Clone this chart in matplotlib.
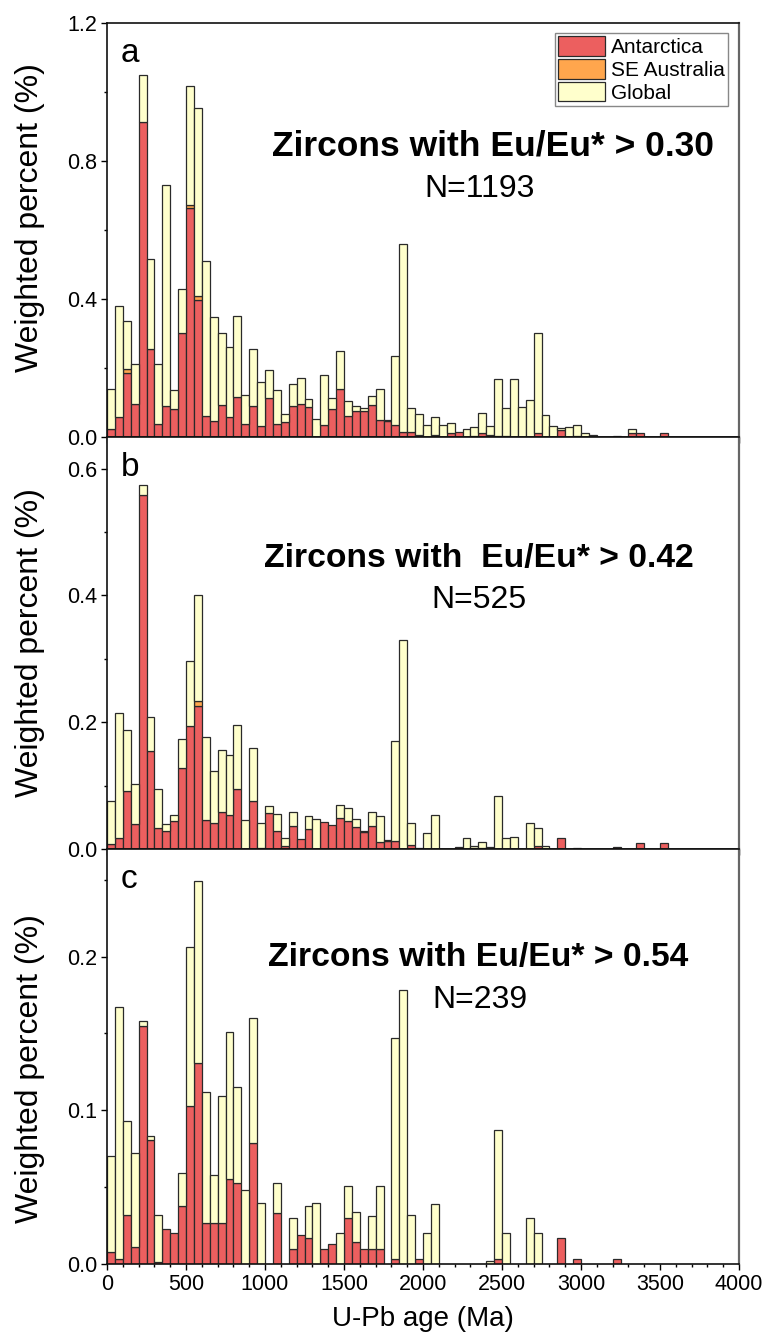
import numpy as np
import matplotlib
matplotlib.use('Agg')
import matplotlib.pyplot as plt
from matplotlib.ticker import MultipleLocator, FormatStrFormatter
from matplotlib.patches import Patch

plt.rcParams['font.family'] = ['Liberation Sans', 'DejaVu Sans']

# ---------------- data (50 Ma bins, 0-4000 Ma) ----------------
bin_left = np.arange(0, 4000, 50)
bin_width = 50

a_antarctica = [0.024, 0.059, 0.186, 0.097, 0.913, 0.256, 0.039, 0.089, 0.082, 0.301,
                0.663, 0.398, 0.060, 0.046, 0.094, 0.058, 0.115, 0.039, 0.091, 0.032,
                0.113, 0.037, 0.044, 0.090, 0.095, 0.087, 0.000, 0.034, 0.082, 0.140,
                0.060, 0.075, 0.075, 0.092, 0.048, 0.047, 0.034, 0.014, 0.014, 0.005,
                0.000, 0.005, 0.000, 0.011, 0.014, 0.000, 0.004, 0.011, 0.006, 0.004,
                0.004, 0.000, 0.000, 0.000, 0.011, 0.000, 0.000, 0.021, 0.000, 0.004,
                0.000, 0.000, 0.000, 0.000, 0.004, 0.000, 0.012, 0.013, 0.000, 0.000,
                0.013, 0.000, 0.000, 0.000, 0.000, 0.000, 0.000, 0.000, 0.000, 0.000]
a_seaus = [0.000, 0.000, 0.012, 0.000, 0.000, 0.000, 0.000, 0.000, 0.000, 0.000,
           0.010, 0.011] + [0.0] * 68
a_global = [0.114, 0.321, 0.138, 0.114, 0.135, 0.259, 0.174, 0.640, 0.055, 0.129,
            0.343, 0.546, 0.450, 0.302, 0.207, 0.203, 0.236, 0.084, 0.164, 0.127,
            0.080, 0.098, 0.022, 0.065, 0.076, 0.023, 0.053, 0.145, 0.032, 0.109,
            0.043, 0.015, 0.008, 0.026, 0.092, 0.003, 0.201, 0.544, 0.069, 0.063,
            0.036, 0.053, 0.035, 0.029, 0.000, 0.023, 0.026, 0.060, 0.027, 0.165,
            0.079, 0.169, 0.088, 0.107, 0.291, 0.064, 0.032, 0.004, 0.028, 0.032,
            0.011, 0.005, 0.000, 0.000, 0.000, 0.000, 0.012, 0.000, 0.000, 0.000,
            0.000, 0.000, 0.000, 0.000, 0.000, 0.000, 0.000, 0.000, 0.000, 0.000]

b_antarctica = [0.008, 0.017, 0.092, 0.039, 0.559, 0.154, 0.033, 0.029, 0.044, 0.128,
                0.194, 0.225, 0.046, 0.041, 0.058, 0.054, 0.094, 0.000, 0.075, 0.002,
                0.057, 0.029, 0.005, 0.037, 0.016, 0.031, 0.000, 0.042, 0.038, 0.049,
                0.044, 0.035, 0.027, 0.037, 0.011, 0.013, 0.013, 0.000, 0.006, 0.002,
                0.000, 0.000, 0.000, 0.000, 0.003, 0.000, 0.002, 0.002, 0.000, 0.000,
                0.000, 0.000, 0.000, 0.000, 0.005, 0.000, 0.000, 0.017, 0.000, 0.002,
                0.000, 0.000, 0.000, 0.000, 0.003, 0.000, 0.000, 0.010, 0.000, 0.000,
                0.010, 0.000, 0.000, 0.000, 0.000, 0.000, 0.000, 0.000, 0.000, 0.000]
b_seaus = [0.0] * 11 + [0.009] + [0.0] * 68
b_global = [0.067, 0.197, 0.095, 0.063, 0.015, 0.055, 0.062, 0.010, 0.010, 0.046,
            0.103, 0.166, 0.130, 0.082, 0.098, 0.095, 0.101, 0.046, 0.084, 0.039,
            0.011, 0.026, 0.013, 0.021, 0.000, 0.021, 0.048, 0.000, 0.000, 0.021,
            0.020, 0.013, 0.001, 0.022, 0.041, 0.001, 0.157, 0.330, 0.035, 0.000,
            0.025, 0.054, 0.000, 0.000, 0.000, 0.018, 0.002, 0.009, 0.003, 0.084,
            0.017, 0.019, 0.000, 0.041, 0.028, 0.004, 0.000, 0.000, 0.000, 0.000,
            0.000, 0.000, 0.000, 0.000, 0.000, 0.000, 0.000, 0.000, 0.000, 0.000,
            0.000, 0.000, 0.000, 0.000, 0.000, 0.000, 0.000, 0.000, 0.000, 0.000]

c_antarctica = [0.008, 0.003, 0.032, 0.011, 0.155, 0.081, 0.001, 0.023, 0.020, 0.038,
                0.103, 0.131, 0.027, 0.027, 0.027, 0.055, 0.053, 0.000, 0.079, 0.000,
                0.000, 0.033, 0.000, 0.010, 0.019, 0.017, 0.000, 0.010, 0.013, 0.000,
                0.030, 0.014, 0.010, 0.010, 0.010, 0.000, 0.003, 0.000, 0.000, 0.003,
                0.000, 0.000, 0.000, 0.000, 0.000, 0.000, 0.000, 0.000, 0.000, 0.003,
                0.000, 0.000, 0.000, 0.000, 0.000, 0.000, 0.000, 0.017, 0.000, 0.003,
                0.000, 0.000, 0.000, 0.000, 0.003, 0.000, 0.000, 0.000, 0.000, 0.000,
                0.000, 0.000, 0.000, 0.000, 0.000, 0.000, 0.000, 0.000, 0.000, 0.000]
c_seaus = [0.0] * 80
c_global = [0.062, 0.164, 0.061, 0.061, 0.003, 0.002, 0.031, 0.000, 0.000, 0.021,
            0.103, 0.118, 0.085, 0.031, 0.082, 0.096, 0.062, 0.048, 0.081, 0.040,
            0.000, 0.020, 0.000, 0.020, 0.000, 0.021, 0.040, 0.000, 0.000, 0.020,
            0.021, 0.020, 0.000, 0.021, 0.041, 0.000, 0.144, 0.178, 0.032, 0.000,
            0.020, 0.039, 0.000, 0.000, 0.000, 0.000, 0.000, 0.000, 0.002, 0.084,
            0.020, 0.000, 0.000, 0.030, 0.020, 0.000, 0.000, 0.000, 0.000, 0.000,
            0.000, 0.000, 0.000, 0.000, 0.000, 0.000, 0.000, 0.000, 0.000, 0.000,
            0.000, 0.000, 0.000, 0.000, 0.000, 0.000, 0.000, 0.000, 0.000, 0.000]

series_names = ['Antarctica', 'SE Australia', 'Global']
panel_letters = ['a', 'b', 'c']
panel_titles = ['Zircons with Eu/Eu* > 0.30', 'Zircons with  Eu/Eu* > 0.42',
                'Zircons with Eu/Eu* > 0.54']
panel_n = ['N=1193', 'N=525', 'N=239']
x_ticks = [0, 500, 1000, 1500, 2000, 2500, 3000, 3500, 4000]

# ---------------- style ----------------
colors = ['#EC5F5F', '#FFA64D', '#FFFFCC']
edge = '#2a2a2a'

W, H = 767, 1338
fig = plt.figure(figsize=(W / 100, H / 100), dpi=100)

left = 107 / W
width = 632 / W
panel_px = [(23, 437), (437, 849), (849, 1264)]
ylims = [1.2, 0.65, 0.27]
ymajor = [0.4, 0.2, 0.1]
yminor = [0.2, 0.1, 0.05]
title_y = [0.679, 0.684, 0.717]
title_x = [0.611, 0.589, 0.587]
title_size = [25.5, 24.2, 24.2]
n_y = [0.580, 0.585, 0.618]
n_x = [0.590, 0.589, 0.590]
ylab_y = [0.53, 0.50, 0.47]

data = [(a_antarctica, a_seaus, a_global),
        (b_antarctica, b_seaus, b_global),
        (c_antarctica, c_seaus, c_global)]

axes = []
for k in range(3):
    top, bot = panel_px[k]
    ax = fig.add_axes([left, (H - bot) / H, width, (bot - top) / H])
    axes.append(ax)
    ant, sea, glo = [np.array(v, dtype=float) for v in data[k]]
    bottoms = [np.zeros(80), ant, ant + sea]
    for vals, bots, col in zip([ant, sea, glo], bottoms, colors):
        m = vals > 0
        ax.bar(bin_left[m], vals[m], width=bin_width, bottom=bots[m], align='edge',
               color=col, edgecolor=edge, linewidth=0.9, zorder=2)
    ax.set_xlim(0, 4000)
    ax.set_ylim(0, ylims[k])
    ax.xaxis.set_major_locator(MultipleLocator(500))
    ax.xaxis.set_minor_locator(MultipleLocator(100))
    ax.yaxis.set_major_locator(MultipleLocator(ymajor[k]))
    ax.yaxis.set_minor_locator(MultipleLocator(yminor[k]))
    ax.yaxis.set_major_formatter(FormatStrFormatter('%.1f'))
    ax.tick_params(which='major', direction='out', length=4.2, width=1.0,
                   labelsize=15.5, pad=3, colors='#000000')
    ax.tick_params(which='minor', direction='out', length=2.4, width=1.0)
    ax.tick_params(axis='x', which='both', top=False)
    ax.tick_params(axis='y', which='both', right=False)
    if k < 2:
        ax.tick_params(axis='x', labelbottom=False)
    for s in ['left', 'bottom', 'top']:
        ax.spines[s].set_linewidth(1.2)
        ax.spines[s].set_color('#111111')
    ax.spines['right'].set_linewidth(1.6)
    ax.spines['right'].set_color('#666666')
    ax.set_ylabel('Weighted percent (%)', fontsize=23)
    ax.yaxis.set_label_coords(-0.098, ylab_y[k])
    ax.text(0.022, 0.906, panel_letters[k], transform=ax.transAxes,
            fontsize=24, ha='left', va='baseline')
    ax.text(title_x[k], title_y[k], panel_titles[k], transform=ax.transAxes,
            fontsize=title_size[k], fontweight='bold', ha='center', va='baseline')
    ax.text(n_x[k], n_y[k], panel_n[k], transform=ax.transAxes,
            fontsize=23, ha='center', va='baseline')

axes[2].set_xticks(x_ticks)
axes[2].set_xticklabels([str(t) for t in x_ticks])
axes[2].set_xlabel('U-Pb age (Ma)', fontsize=20, labelpad=8)

handles = [Patch(facecolor=c, edgecolor=edge, linewidth=0.9) for c in colors]
leg = axes[0].legend(handles, series_names, loc='upper right',
                     bbox_to_anchor=(0.9826, 0.9758), borderaxespad=0,
                     fontsize=15, handlelength=2.27, handleheight=1.06,
                     handletextpad=0.29, labelspacing=0.1, borderpad=0.15,
                     fancybox=False, framealpha=1, edgecolor='#888888')
leg.get_frame().set_linewidth(1.0)

fig.savefig('out.png', dpi=100)
